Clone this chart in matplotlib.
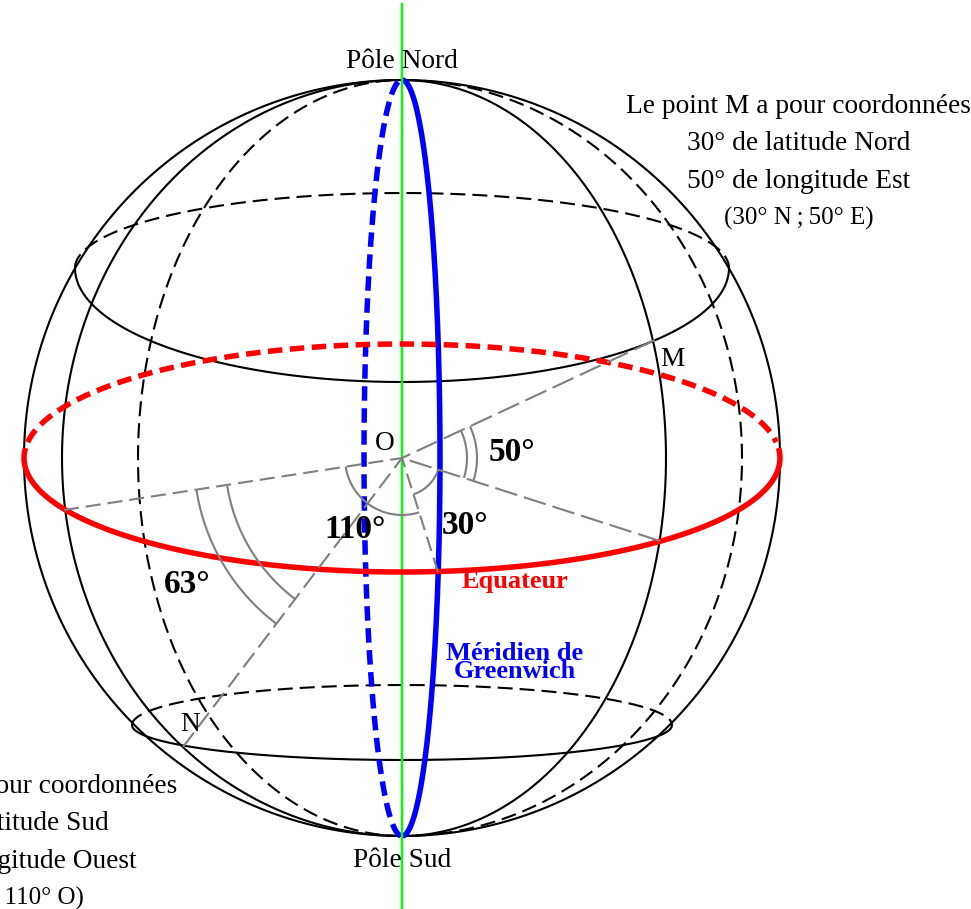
import numpy as np
import matplotlib
matplotlib.use("Agg")
import matplotlib.pyplot as plt

# sphere geometry in pixels
CENTER = (402, 458)
SPHERE_R = 378
EQUATOR_A, EQUATOR_B = 378, 114
GREENWICH_A = 38
MERIDIAN_EAST_A = 264
MERIDIAN_WEST_A = 340
NORTH_Y, NORTH_A, NORTH_FRONT_B, NORTH_BACK_B = 268, 327, 114, 75
SOUTH_Y, SOUTH_A, SOUTH_FRONT_B, SOUTH_BACK_B = 725, 270, 35, 40

# ends of the gray radii
RADII_ENDS = {
    "M": (655, 340),
    "E": (660, 541),
    "S": (438, 572),
    "W": (64, 510),
    "N": (183, 747),
}

# angle arcs: (radius, from, to) in degrees
ARCS = [
    (65, -17.8, 25.0),
    (75, -17.8, 25.0),
    (38, -72.5, -17.8),
    (57, -171.3, -72.5),
    (177, -171.3, -127.2),
    (208, -171.3, -127.2),
]

RIGHT_NOTE = ["Le point M a pour coordonnées", "30° de latitude Nord",
              "50° de longitude Est", "(30° N\u2009;\u200950° E)"]
RIGHT_NOTE_X = [798.5, 798.5, 798.5, 798.5]
RIGHT_NOTE_Y = [113, 150, 188, 225]
LEFT_NOTE = ["Le point N a pour coordonnées", "63° de latitude Sud",
             "110° de longitude Ouest", "(63° S\u2009;\u2009110° O)"]
LEFT_NOTE_X = [7, 3.5, 4.5, 3.5]
LEFT_NOTE_Y = [793, 830, 868, 905]

PX = 72 / 100  # one pixel in points
SERIF = "Liberation Serif"
BLACK_DASH = (0, (15 * PX, 7 * PX))
THICK_DASH = (0, (14.5 * PX, 7.5 * PX))
# the radii do not all have the same dash length in the reference
GRAY_DASHES = {
    "M": (0, (23 * PX, 7 * PX)),
    "E": (0, (23 * PX, 7 * PX)),
    "S": (0, (15 * PX, 7 * PX)),
    "W": (0, (15 * PX, 7 * PX)),
    "N": (0, (18 * PX, 7 * PX)),
}

plt.rcParams["lines.scale_dashes"] = False
plt.rcParams["font.family"] = SERIF

fig = plt.figure(figsize=(9.71, 9.09), dpi=100)
ax = fig.add_axes([0, 0, 1, 1])
ax.set_xlim(0, 971)
ax.set_ylim(909, 0)
ax.axis("off")


def half(cx, cy, a, b, t0, t1, **kw):
    t = np.radians(np.linspace(t0, t1, 300))
    ax.plot(cx + a * np.cos(t), cy + b * np.sin(t), dash_capstyle="butt",
            solid_capstyle="butt", **kw)


cx, cy = CENTER
black = dict(color="black", lw=2.1 * PX)

# outline of the sphere and the two other meridians
half(cx, cy, SPHERE_R, SPHERE_R, 0, 360, **black)
half(cx, cy, MERIDIAN_EAST_A, SPHERE_R, -90, 90, **black)
half(cx, cy, MERIDIAN_EAST_A, SPHERE_R, 90, 270, ls=BLACK_DASH, **black)
half(cx, cy, MERIDIAN_WEST_A, SPHERE_R, 90, 270, **black)
half(cx, cy, MERIDIAN_WEST_A, SPHERE_R, -90, 90, ls=BLACK_DASH, **black)

# parallels
half(cx, NORTH_Y, NORTH_A, NORTH_FRONT_B, 0, 180, **black)
half(cx, NORTH_Y, NORTH_A, NORTH_BACK_B, 180, 360, ls=BLACK_DASH, **black)
half(cx, SOUTH_Y, SOUTH_A, SOUTH_FRONT_B, 0, 180, **black)
half(cx, SOUTH_Y, SOUTH_A, SOUTH_BACK_B, 180, 360, ls=BLACK_DASH, **black)

# equator and Greenwich
half(cx, cy, GREENWICH_A, SPHERE_R, -90, 90, color="blue", lw=5.5 * PX, zorder=3)
half(cx, cy, GREENWICH_A, SPHERE_R, 92, 268, color="blue", lw=5.5 * PX, ls=THICK_DASH, zorder=3)

# polar axis
ax.plot([cx, cx], [4, 909], color="#00ff00", lw=2.4 * PX, zorder=3.5)

half(cx, cy, EQUATOR_A, EQUATOR_B, -5, 185, color="red", lw=5.5 * PX, zorder=4)
half(cx, cy, EQUATOR_A, EQUATOR_B, 188, 352, color="red", lw=5.5 * PX, ls=THICK_DASH, zorder=4)

# gray radii and angle marks, dashes start at the outer end
for name, (x, y) in RADII_ENDS.items():
    ax.plot([x, cx], [y, cy], color="gray", lw=2.1 * PX, ls=GRAY_DASHES[name],
            dash_capstyle="butt", zorder=5)
for r, a0, a1 in ARCS:
    half(cx, cy, r, -r, a0, a1, color="gray", lw=2.1 * PX, zorder=5)

# labels
FS = 19.7
FS_COORD = 18
BOLD = 24
BOLD_SMALL = 19
kw = dict(ha="center", va="baseline", zorder=6)
ax.text(402, 68, "Pôle Nord", fontsize=FS, **kw)
ax.text(402, 867, "Pôle Sud", fontsize=FS, **kw)
ax.text(385, 450, "O", fontsize=FS, **kw)
ax.text(672, 366, "M", fontsize=FS, **kw)
ax.text(190, 731, "N", fontsize=FS, **kw)

for i, (txt, x, y) in enumerate(zip(RIGHT_NOTE, RIGHT_NOTE_X, RIGHT_NOTE_Y)):
    ax.text(x, y, txt, fontsize=FS_COORD if i == 3 else FS, **kw)
for i, (txt, x, y) in enumerate(zip(LEFT_NOTE, LEFT_NOTE_X, LEFT_NOTE_Y)):
    ax.text(x, y, txt, fontsize=FS_COORD if i == 3 else FS, **kw)

ax.text(512, 461, "50°", fontsize=BOLD, fontweight="bold", **kw)
ax.text(465, 534, "30°", fontsize=BOLD, fontweight="bold", **kw)
ax.text(355, 538, "110°", fontsize=BOLD, fontweight="bold", **kw)
ax.text(187, 593, "63°", fontsize=BOLD, fontweight="bold", **kw)
ax.text(515, 588, "Equateur", fontsize=BOLD_SMALL, fontweight="bold", color="red", **kw)
ax.text(515, 660, "Méridien de", fontsize=BOLD_SMALL, fontweight="bold", color="blue", **kw)
ax.text(515, 678, "Greenwich", fontsize=BOLD_SMALL, fontweight="bold", color="blue", **kw)

fig.savefig("out.png", dpi=100)
